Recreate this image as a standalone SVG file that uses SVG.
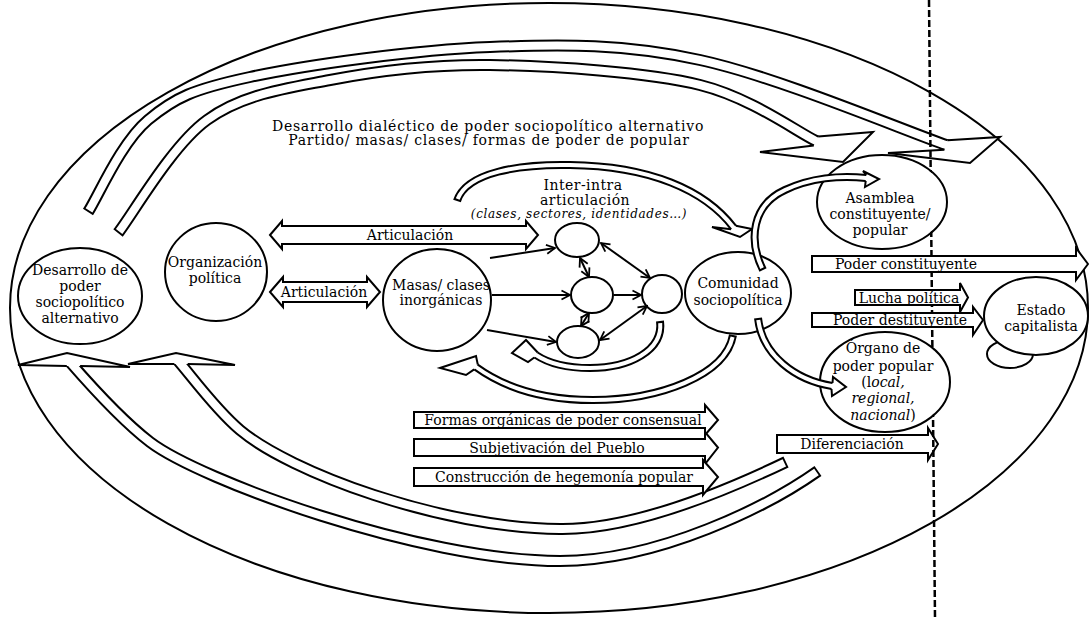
<svg xmlns="http://www.w3.org/2000/svg" width="1089" height="618" viewBox="0 0 1089 618">
<defs>
<style>
.lbl{font-family:"DejaVu Serif","Liberation Serif",serif;font-size:14px;fill:#000;text-anchor:middle}
.wide{letter-spacing:0.75px}
.mid{letter-spacing:0.45px}
.sm{font-size:12px;font-style:italic;letter-spacing:0.65px}
.it{font-style:italic}
.node{fill:#fff;stroke:#000;stroke-width:2}
.frame{fill:none;stroke:#000;stroke-width:2}
.blk{fill:#fff;stroke:#000;stroke-width:2;stroke-linejoin:miter}
.edge{fill:none;stroke:#000;stroke-width:2}
.so{fill:none;stroke:#000;stroke-width:12}
.si{fill:none;stroke:#fff;stroke-width:8}
.so2{fill:none;stroke:#000;stroke-width:8}
.si2{fill:none;stroke:#fff;stroke-width:4}
.hf{fill:#fff;stroke:none}
.hl{fill:none;stroke:#000;stroke-width:2;stroke-linejoin:miter}
.div{fill:none;stroke:#000;stroke-width:2.5;stroke-dasharray:7 3}
</style>
<marker id="tip" viewBox="0 0 12 12" refX="10.5" refY="6" markerWidth="12" markerHeight="12" markerUnits="userSpaceOnUse" orient="auto-start-reverse">
<path d="M2,1.5 L10.5,6 L2,10.5" fill="none" stroke="#000" stroke-width="1.8"/>
</marker>
<!-- centre lines of the hollow curved arrows (tail first, head last) -->
<path id="pA1" pathLength="1000" d="M88 212 C98 196.7 121 142.5 148 120 C175 97.5 193 89.2 250 77 C307 64.8 415 49.8 490 47 C565 44.2 624 43.7 700 60 C776 76.3 905 130.8 946 145 L951.2 146.8"/>
<path id="pA2" pathLength="1000" d="M118 233 C132.8 214.2 171.7 145.5 207 120 C242.3 94.5 282.8 89.2 330 80 C377.2 70.8 428.3 64.2 490 65 C551.7 65.8 649 72.3 700 85 C751 97.7 796.7 131.7 816 141 L820.5 143.2"/>
<path id="pB1" pathLength="1000" d="M818 471 C770 505 660 561 560 561 C420 561 200 480 150 442 C120 419 90 385 69.8 361.8"/>
<path id="pB2" pathLength="1000" d="M786 462 C740 484 640 530 560 529 C440 528 290 472 240 430 C215 409 190.3 374.4 177 359.5"/>
<path id="pC1" pathLength="1000" d="M457 201 C466 172 520 164 570 165 C650 166 705 190 733.5 227.5 L735.5 230.2"/>
<path id="pC2" pathLength="1000" d="M733 335 C726 375 660 400 593 400 C545 400 505 388 476 367 L473.6 365.3"/>
<path id="pC3" pathLength="1000" d="M660 321 C664 350 630 368 590 368 C565 368 548 363 536 355 L534.5 354"/>
<path id="pC4" pathLength="1000" d="M763 270 C748 240 752 205 785 190 C810 178 840 175 866 178 L869 178.3"/>
<path id="pC5" pathLength="1000" d="M758 318 C762 355 795 380 832 386 L835 386.5"/>
<mask id="divMask" maskUnits="userSpaceOnUse" x="0" y="0" width="1089" height="618">
<rect width="1089" height="618" fill="#fff"/>
<ellipse cx="882" cy="202" rx="64" ry="46" fill="#000"/>
<ellipse cx="885" cy="382" rx="64" ry="49" fill="#000"/>
<rect x="813" y="257" width="262" height="14" fill="#000"/>
<rect x="856" y="291" width="103" height="13" fill="#000"/>
<rect x="813" y="314" width="159" height="12" fill="#000"/>
</mask>
</defs>

<rect width="1089" height="618" fill="#fff"/>

<g id="frame">
<ellipse class="frame" cx="549" cy="308" rx="539" ry="305"/>
<text class="lbl wide"><tspan x="488" y="130.5">Desarrollo dialéctico de poder sociopolítico alternativo</tspan><tspan x="489" y="145">Partido/ masas/ clases/ formas de poder de popular</tspan></text>
<text class="lbl mid"><tspan x="583" y="189.5">Inter-intra</tspan><tspan x="585" y="204.5">articulación</tspan><tspan x="579" y="218" class="sm">(clases, sectores, identidades…)</tspan></text>
</g>

<g id="node-desarrollo">
<ellipse class="node" cx="80" cy="296" rx="62" ry="48"/>
<text class="lbl"><tspan x="80" y="275">Desarrollo de</tspan><tspan x="80" y="291">poder</tspan><tspan x="80" y="307">sociopolítico</tspan><tspan x="80" y="323">alternativo</tspan></text>
</g>
<g id="node-organizacion">
<ellipse class="node" cx="216" cy="272" rx="51" ry="49"/>
<text class="lbl"><tspan x="215" y="267">Organización</tspan><tspan x="215" y="283">política</tspan></text>
</g>
<g id="node-masas">
<ellipse class="node" cx="437" cy="300" rx="54" ry="51"/>
<text class="lbl"><tspan x="441" y="290">Masas/ clases</tspan><tspan x="441" y="305">inorgánicas</tspan></text>
</g>
<g id="node-g1"><ellipse class="node" cx="577" cy="240" rx="22" ry="17"/></g>
<g id="node-g2"><ellipse class="node" cx="592" cy="295" rx="21" ry="18"/></g>
<g id="node-g3"><ellipse class="node" cx="662" cy="294" rx="20" ry="19"/></g>
<g id="node-g4"><ellipse class="node" cx="578" cy="342" rx="21" ry="16"/></g>
<g id="node-comunidad">
<ellipse class="node" cx="738" cy="293" rx="53" ry="41"/>
<text class="lbl"><tspan x="738" y="288">Comunidad</tspan><tspan x="738" y="305">sociopolítica</tspan></text>
</g>
<g id="node-asamblea">
<ellipse class="node" cx="882" cy="202" rx="65" ry="47"/>
<text class="lbl"><tspan x="880" y="203">Asamblea</tspan><tspan x="880" y="219">constituyente/</tspan><tspan x="880" y="235">popular</tspan></text>
</g>
<g id="node-organo">
<ellipse class="node" cx="885" cy="382" rx="65" ry="50"/>
<text class="lbl"><tspan x="883" y="353">Órgano de</tspan><tspan x="883" y="371">poder popular</tspan><tspan x="883" y="387">(l<tspan class="it">ocal,</tspan></tspan><tspan x="883" y="403" class="it">regional,</tspan><tspan x="883" y="420"><tspan class="it">nacional</tspan>)</tspan></text>
</g>
<g id="node-estado">
<ellipse class="node" cx="1010" cy="354" rx="23" ry="14"/>
<ellipse class="node" cx="1036" cy="316" rx="52" ry="39"/>
<text class="lbl"><tspan x="1041" y="315">Estado</tspan><tspan x="1041" y="331">capitalista</tspan></text>
</g>

<g id="connectors">
<!-- large hollow arcs -->
<use href="#pA1" class="so"/><use href="#pA1" class="si" stroke-dasharray="0 2.1 2000"/>
<polygon class="hf" points="944.4,149.7 888,153 970,163 1000,137 947.6,140.3"/>
<polyline class="hl" points="944.4,149.7 888,153 970,163 1000,137 947.6,140.3"/>
<use href="#pA2" class="so"/><use href="#pA2" class="si" stroke-dasharray="0 2.6 2000"/>
<polygon class="hf" points="813.8,145.5 760,152 843,162 873,132 818.2,136.5"/>
<polyline class="hl" points="813.8,145.5 760,152 843,162 873,132 818.2,136.5"/>
<use href="#pB1" class="so"/><use href="#pB1" class="si" stroke-dasharray="0 2.4 2000"/>
<polygon class="hf" points="66.8,366 18,365 67,353 130,367 80.1,366"/>
<polyline class="hl" points="66.8,366 18,365 67,353 130,367 80.1,366"/>
<use href="#pB2" class="so"/><use href="#pB2" class="si" stroke-dasharray="0 2.9 2000"/>
<polygon class="hf" points="174.4,364 128,364 176,353 235,365 187.7,364"/>
<polyline class="hl" points="174.4,364 128,364 176,353 235,365 187.7,364"/>

<!-- small hollow arcs -->
<use href="#pC1" class="so2"/><use href="#pC1" class="si2" stroke-dasharray="0 6.5 2000"/>
<polygon class="hf" points="731.1,229.3 712,227 740,237 752,229 735.9,225.7"/>
<polyline class="hl" points="731.1,229.3 712,227 740,237 752,229 735.9,225.7"/>
<use href="#pC2" class="so2"/><use href="#pC2" class="si2" stroke-dasharray="0 6.9 2000"/>
<polygon class="hf" points="477.8,364.6 476,356 440,368 466,375 474.2,369.4"/>
<polyline class="hl" points="477.8,364.6 476,356 440,368 466,375 474.2,369.4"/>
<use href="#pC3" class="so2"/><use href="#pC3" class="si2" stroke-dasharray="0 13.8 2000"/>
<polygon class="hf" points="537.7,352.5 526,340 512,353 528,362 534.3,357.5"/>
<polyline class="hl" points="537.7,352.5 526,340 512,353 528,362 534.3,357.5"/>
<use href="#pC4" class="so2"/><use href="#pC4" class="si2" stroke-dasharray="0 11.8 2000"/>
<polygon class="hf" points="866.3,175 863,171 879,179 865,187 865.7,181"/>
<polyline class="hl" points="866.3,175 863,171 879,179 865,187 865.7,181"/>
<use href="#pC5" class="so2"/><use href="#pC5" class="si2" stroke-dasharray="0 18 2000"/>
<polygon class="hf" points="832.5,383 833,377 846,387 832,396 831.5,389"/>
<polyline class="hl" points="832.5,383 833,377 846,387 832,396 831.5,389"/>

<!-- inter-intra articulation links -->
<line class="edge" x1="490" y1="258" x2="555" y2="248" marker-end="url(#tip)"/>
<line class="edge" x1="492" y1="295" x2="570" y2="295" marker-end="url(#tip)"/>
<line class="edge" x1="487" y1="330" x2="556" y2="342" marker-end="url(#tip)"/>
<line class="edge" x1="580" y1="258" x2="589" y2="277" marker-start="url(#tip)" marker-end="url(#tip)"/>
<line class="edge" x1="589" y1="313" x2="581" y2="326" marker-start="url(#tip)" marker-end="url(#tip)"/>
<line class="edge" x1="601" y1="243" x2="650" y2="278" marker-start="url(#tip)" marker-end="url(#tip)"/>
<line class="edge" x1="614" y1="295" x2="641" y2="295" marker-end="url(#tip)"/>
<line class="edge" x1="600" y1="340" x2="647" y2="306" marker-start="url(#tip)" marker-end="url(#tip)"/>

<!-- double block arrows -->
<polygon class="blk" points="270,235 282,221 282,226 526,226 526,221 538,235 526,249 526,244 282,244 282,249"/>
<text class="lbl" x="410" y="240">Articulación</text>
<polygon class="blk" points="270,292 283,277 283,282 367,282 367,277 380,292 367,307 367,302 283,302 283,307"/>
<text class="lbl" x="324" y="297">Articulación</text>

<!-- block arrows, right -->
<polygon class="blk" points="812,256 1076,256 1076,248 1088,264 1076,280 1076,272 812,272"/>
<text class="lbl" x="906" y="269">Poder constituyente</text>
<polygon class="blk" points="855,290 960,290 960,283 968,297.5 960,312 960,305 855,305"/>
<text class="lbl" x="909" y="302.5">Lucha política</text>
<polygon class="blk" points="812,313 973,313 973,307 983,320 973,335 973,327 812,327"/>
<text class="lbl" x="900" y="325">Poder destituyente</text>
<polygon class="blk" points="777,435 928,435 928,428 938,444 928,460 928,453 777,453"/>
<text class="lbl" x="852" y="449">Diferenciación</text>

<!-- block arrows, bottom -->
<polygon class="blk" points="414,412 705,412 705,405 718,420 705,435 705,428 414,428"/>
<text class="lbl" x="563" y="425">Formas orgánicas de poder consensual</text>
<polygon class="blk" points="414,439 705,439 705,432 718,447.5 705,464 705,456 414,456"/>
<text class="lbl" x="557" y="452.5">Subjetivación del Pueblo</text>
<polygon class="blk" points="414,468 703,468 703,460 718,477 703,495 703,486 414,486"/>
<text class="lbl" x="564" y="482">Construcción de hegemonía popular</text>
</g>

<g id="divider">
<line class="div" x1="929" y1="0" x2="935" y2="618" mask="url(#divMask)"/>
</g>
</svg>
